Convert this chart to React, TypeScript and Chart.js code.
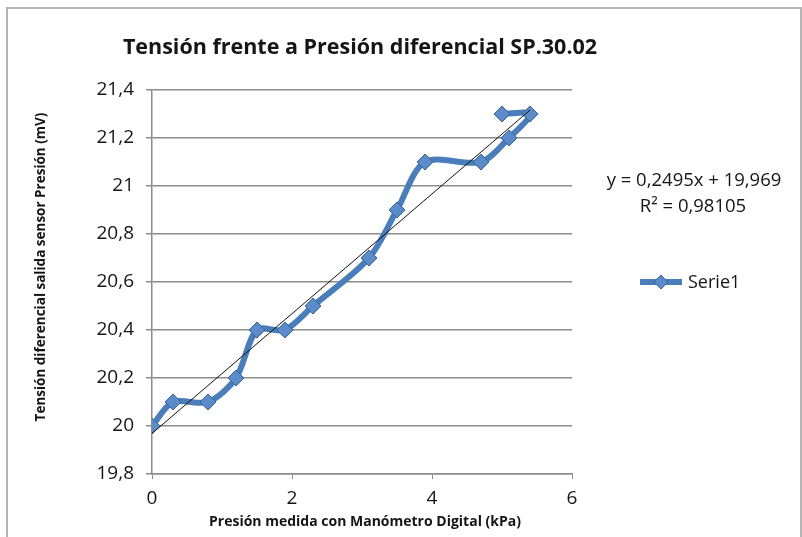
import React, { useEffect, useRef } from 'react';
import { Chart, registerables } from 'chart.js';
Chart.register(...registerables);

const chartTitle = 'Tensión frente a Presión diferencial SP.30.02';
const xAxisTitle = 'Presión medida con Manómetro Digital (kPa)';
const yAxisTitle = 'Tensión diferencial salida sensor Presión (mV)';
const seriesName = 'Serie1';
const pressureKPa = [0, 0.3, 0.8, 1.2, 1.5, 1.9, 2.3, 3.1, 3.5, 3.9, 4.7, 5.1, 5.4, 5.0];
const voltageMV = [20.0, 20.1, 20.1, 20.2, 20.4, 20.4, 20.5, 20.7, 20.9, 21.1, 21.1, 21.2, 21.3, 21.3];
const trendSlope = 0.2495;
const trendIntercept = 19.969;
const trendXRange = [0, 5.4];
const equationLines = ['y = 0,2495x + 19,969', 'R² = 0,98105'];
const xMin = 0, xMax = 6, xStep = 2;
const yMin = 19.8, yMax = 21.4, yStep = 0.2;

const FONT = '"Open Sans", "Liberation Sans", sans-serif';
const LINE_COLOR = '#4A7EBB';
const MARKER_FILL = '#5B8BC9';
const MARKER_BORDER = '#3A659B';
const GRID = '#8c8c8c';
const TEXT = '#151515';

const decorPlugin = {
  id: 'decor',
  beforeDraw(chart: any) {
    const ctx = chart.ctx;
    ctx.save();
    ctx.fillStyle = '#ffffff';
    ctx.fillRect(0, 0, chart.width, chart.height);
    ctx.strokeStyle = '#b5b5b5';
    ctx.lineWidth = 2;
    ctx.strokeRect(7, 8, chart.width - 8, chart.height + 20);
    ctx.restore();
  },
  afterDraw(chart: any) {
    const ctx = chart.ctx;
    const area = chart.chartArea;
    ctx.save();
    ctx.fillStyle = TEXT;
    ctx.textAlign = 'center';
    ctx.textBaseline = 'middle';
    ctx.font = `bold 21.5px ${FONT}`;
    ctx.fillText(chartTitle, 360, 48);
    ctx.font = `bold 14px ${FONT}`;
    ctx.fillText(xAxisTitle, (area.left + area.right) / 2 + 3, 522);
    ctx.save();
    ctx.translate(41, 267);
    ctx.rotate(-Math.PI / 2);
    ctx.font = `bold 13.5px ${FONT}`;
    ctx.fillText(yAxisTitle, 0, 0);
    ctx.restore();
    ctx.font = `18.5px ${FONT}`;
    ctx.fillText(equationLines[0], 694, 181);
    ctx.fillText(equationLines[1], 693, 207);
    // legend
    ctx.strokeStyle = LINE_COLOR;
    ctx.lineWidth = 6;
    ctx.beginPath();
    ctx.moveTo(640, 282);
    ctx.lineTo(682, 282);
    ctx.stroke();
    ctx.fillStyle = MARKER_FILL;
    ctx.strokeStyle = MARKER_BORDER;
    ctx.lineWidth = 1;
    ctx.beginPath();
    ctx.moveTo(661, 275);
    ctx.lineTo(668, 282);
    ctx.lineTo(661, 289);
    ctx.lineTo(654, 282);
    ctx.closePath();
    ctx.fill();
    ctx.stroke();
    ctx.fillStyle = TEXT;
    ctx.textAlign = 'left';
    ctx.font = `18px ${FONT}`;
    ctx.fillText(seriesName, 688, 283);
    ctx.restore();
  },
};

export default function App() {
  const ref = useRef<HTMLCanvasElement | null>(null);
  useEffect(() => {
    document.body.style.margin = '0';
    if (!ref.current) return;
    const points = pressureKPa.map((x, i) => ({ x, y: voltageMV[i] }));
    const trend = trendXRange.map((x) => ({ x, y: trendSlope * x + trendIntercept }));
    const chart = new Chart(ref.current, {
      type: 'scatter',
      data: {
        datasets: [
          {
            label: 'Lineal (' + seriesName + ')',
            data: trend,
            showLine: true,
            borderColor: '#111',
            borderWidth: 1,
            pointRadius: 0,
            order: 0,
          },
          {
            label: seriesName,
            data: points,
            showLine: true,
            tension: 0.3,
            borderColor: LINE_COLOR,
            borderWidth: 6,
            pointStyle: 'rectRot',
            pointRadius: 8,
            pointBackgroundColor: MARKER_FILL,
            pointBorderColor: MARKER_BORDER,
            pointBorderWidth: 1,
            order: 1,
          },
        ],
      },
      options: {
        animation: false,
        responsive: true,
        maintainAspectRatio: false,
        layout: { padding: { left: 0, right: 230, top: 90, bottom: 0 } },
        plugins: { legend: { display: false }, tooltip: { enabled: false }, title: { display: false } },
        scales: {
          x: {
            type: 'linear',
            min: xMin,
            max: xMax,
            ticks: { stepSize: xStep, font: { family: FONT, size: 19 }, color: TEXT, padding: 8 },
            grid: { drawOnChartArea: false, drawTicks: true, tickLength: 5, color: GRID },
            border: { display: true, color: GRID, width: 1.5 },
            afterFit: (s: any) => { s.height = 63; },
          },
          y: {
            min: yMin,
            max: yMax,
            ticks: {
              stepSize: yStep,
              font: { family: FONT, size: 19 },
              color: TEXT,
              padding: 12,
              callback: (v: any) => String(Math.round(Number(v) * 10) / 10).replace('.', ','),
            },
            grid: { color: GRID, lineWidth: 1.5, tickLength: 6 },
            border: { display: true, color: GRID, width: 1.5 },
            afterFit: (s: any) => { s.width = 152; },
          },
        },
      },
      plugins: [decorPlugin],
    });
    return () => chart.destroy();
  }, []);
  return (
    <div style={{ position: 'relative', width: 802, height: 537 }}>
      <canvas ref={ref} />
    </div>
  );
}
